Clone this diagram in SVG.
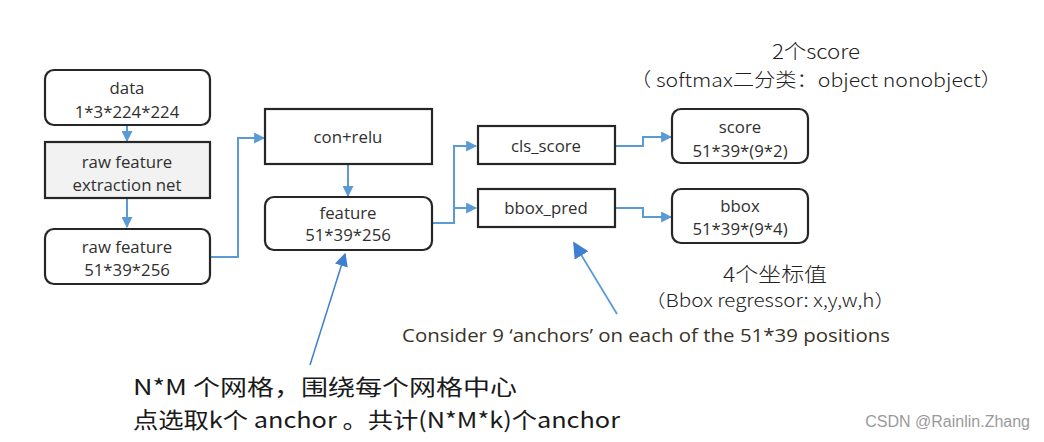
<svg xmlns="http://www.w3.org/2000/svg" width="1044" height="442" viewBox="0 0 1044 442">
<style>
.box{fill:#fff;stroke:#262626;stroke-width:2.2}
.gray{fill:#f2f2f2}
.t{font-family:"Open Sans","Liberation Sans",sans-serif;font-size:16.8px;fill:#303030;text-anchor:middle}
.c{fill:none;stroke:#5b9bd5;stroke-width:2}
.note{font-family:"Noto Sans CJK SC","Liberation Sans",sans-serif;font-weight:300;fill:#222}
.note2{font-family:"Noto Sans CJK SC","Liberation Sans",sans-serif;font-weight:400;fill:#1a1a1a}
</style>
<defs>
<marker id="ah" viewBox="0 0 10 10" refX="9" refY="5" markerWidth="5.5" markerHeight="5.5" orient="auto" markerUnits="strokeWidth">
<path d="M0,0 L10,5 L0,10 z" fill="#5b9bd5"/>
</marker>
<marker id="ah2" viewBox="0 0 10 10" refX="9" refY="5" markerWidth="9" markerHeight="9" orient="auto" markerUnits="strokeWidth">
<path d="M0,0 L10,5 L0,10 z" fill="#3f7fd0"/>
</marker>
</defs>
<rect width="1044" height="442" fill="#fff"/>
<g id="connectors">
<path class="c" d="M127,125 V141" marker-end="url(#ah)"/>
<path class="c" d="M127,198 V227" marker-end="url(#ah)"/>
<path class="c" d="M210,257 H238 V138 H264" marker-end="url(#ah)"/>
<path class="c" d="M348,163 V196" marker-end="url(#ah)"/>
<path class="c" d="M432,223 H454 V146 H476" marker-end="url(#ah)"/>
<path class="c" d="M454,208 H476" marker-end="url(#ah)"/>
<path class="c" d="M615,146 H643 V137 H671" marker-end="url(#ah)"/>
<path class="c" d="M615,208 H643 V217 H671" marker-end="url(#ah)"/>
<path d="M617,314 L574,243" fill="none" stroke="#5b9bd5" stroke-width="1.8" marker-end="url(#ah2)"/>
<path d="M310,365 L345,254" fill="none" stroke="#3f7fd0" stroke-width="1.5" marker-end="url(#ah2)"/>
</g>
<g id="data">
<rect class="box" x="45" y="70" width="165" height="55" rx="9"/>
<text class="t" x="127" y="94">data</text>
<text class="t" x="127" y="118">1*3*224*224</text>
</g>
<g id="extraction">
<rect class="box gray" x="45" y="142" width="165" height="56"/>
<text class="t" x="127" y="168">raw feature</text>
<text class="t" x="127" y="191">extraction net</text>
</g>
<g id="rawfeature">
<rect class="box" x="45" y="229" width="165" height="55" rx="9"/>
<text class="t" x="127" y="253">raw feature</text>
<text class="t" x="127" y="276">51*39*256</text>
</g>
<g id="conrelu">
<rect class="box" x="265" y="109" width="167" height="55"/>
<text class="t" x="348" y="143">con+relu</text>
</g>
<g id="feature">
<rect class="box" x="265" y="197" width="167" height="53" rx="9"/>
<text class="t" x="348" y="219">feature</text>
<text class="t" x="348" y="241">51*39*256</text>
</g>
<g id="cls_score">
<rect class="box" x="478" y="126" width="137" height="38"/>
<text class="t" x="546" y="152">cls_score</text>
</g>
<g id="bbox_pred">
<rect class="box" x="478" y="189" width="137" height="38"/>
<text class="t" x="546" y="214">bbox_pred</text>
</g>
<g id="score">
<rect class="box" x="672" y="109" width="136" height="54" rx="9"/>
<text class="t" x="740" y="133">score</text>
<text class="t" x="740" y="157">51*39*(9*2)</text>
</g>
<g id="bbox">
<rect class="box" x="672" y="189" width="136" height="54" rx="9"/>
<text class="t" x="740" y="212">bbox</text>
<text class="t" x="740" y="235">51*39*(9*4)</text>
</g>
<g id="annotations">
<text class="note" x="816" y="59" font-size="20" text-anchor="middle" textLength="88" lengthAdjust="spacingAndGlyphs">2个score</text>
<text class="note" x="816" y="87" font-size="19" text-anchor="middle" textLength="372" lengthAdjust="spacingAndGlyphs">（ softmax二分类：object nonobject）</text>
<text class="note" x="775" y="282" font-size="20" text-anchor="middle" textLength="104" lengthAdjust="spacingAndGlyphs">4个坐标值</text>
<text class="note" x="770" y="307" font-size="18" text-anchor="middle" textLength="250" lengthAdjust="spacingAndGlyphs">（Bbox regressor: x,y,w,h）</text>
<text x="402" y="342" font-family="'Open Sans','Liberation Sans',sans-serif" font-size="19" fill="#3a3326" textLength="488" lengthAdjust="spacingAndGlyphs">Consider 9 ‘anchors’ on each of the 51*39 positions</text>
<text class="note2" x="133" y="395" font-size="22" textLength="384" lengthAdjust="spacingAndGlyphs">N*M 个网格，围绕每个网格中心</text>
<text class="note2" x="133" y="428" font-size="22" textLength="487" lengthAdjust="spacingAndGlyphs">点选取k个 anchor 。共计(N*M*k)个anchor</text>
<text x="1030" y="427" font-family="'Liberation Sans',sans-serif" font-size="16" fill="#9a9a9a" text-anchor="end">CSDN @Rainlin.Zhang</text>
</g>
</svg>
